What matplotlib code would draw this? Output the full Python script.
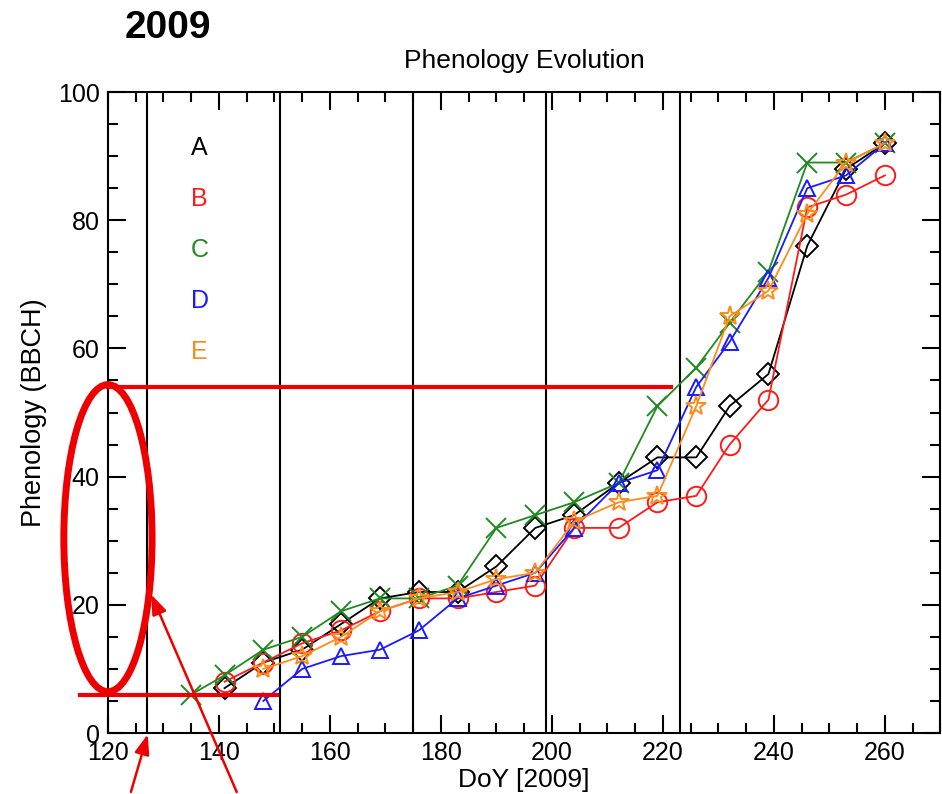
import matplotlib
matplotlib.use("Agg")
import matplotlib.pyplot as plt
from matplotlib.patches import Ellipse
from matplotlib.ticker import MultipleLocator

plt.rcParams['font.family'] = ['Liberation Sans', 'DejaVu Sans']

# day of year for each sampling date
doy = [135, 141, 148, 155, 162, 169, 176, 183, 190, 197, 204, 212, 219, 226, 232, 239, 246, 253, 260]

# BBCH phenology per site (None = no observation)
site_a = [None, 7, 11, 13, 17, 21, 22, 22, 26, 32, 34, 39, 43, 43, 51, 56, 76, 88, 92]
site_b = [None, 8, 11, 14, 16, 19, 21, 21, 22, 23, 32, 32, 36, 37, 45, 52, 82, 84, 87]
site_c = [6, 9, 13, 15, 19, 21, 21, 23, 32, 34, 36, 39, 51, 57, 64, 72, 89, 89, 92]
site_d = [None, None, 5, 10, 12, 13, 16, 21, 23, 25, 32, 39, 41, 54, 61, 71, 85, 87, 92]
site_e = [None, None, 10, 12, 15, 19, 21, 22, 24, 25, 33, 36, 37, 51, 65, 69, 81, 89, 92]

labels = ['A', 'B', 'C', 'D', 'E']
colors = ['black', '#ff1a1a', '#1f8a1f', '#1a1aff', '#ff8c1a']
markers = ['D', 'o', 'x', '^', '*']
msizes = [11, 14, 14, 12, 15]

# vertical reference lines (satellite dates)
ref_days = [127, 151, 175, 199, 223]
# red highlight lines
hi_levels = [54, 6]
hi_spans = [(120, 221.5), (115, 150.5)]


def drop_missing(xs, ys):
    pairs = [(x, y) for x, y in zip(xs, ys) if y is not None]
    return [p[0] for p in pairs], [p[1] for p in pairs]


fig = plt.figure(figsize=(9.42, 7.94), dpi=100)
ax = fig.add_axes([0.1146, 0.0768, 0.8838, 0.8073])

for d in ref_days:
    ax.axvline(d, color='black', lw=1.5, zorder=1)

series = [site_a, site_b, site_c, site_d, site_e]
for vals, col, mk, ms in zip(series, colors, markers, msizes):
    xs, ys = drop_missing(doy, vals)
    ax.plot(xs, ys, color=col, lw=1.3, marker=mk, ms=ms,
            mfc='none', mec=col, mew=1.4, zorder=3)

for i, (lab, col) in enumerate(zip(labels, colors)):
    ax.text(0.11, 0.912 - i * 0.0795, lab, color=col, fontsize=18,
            ha='center', va='center', transform=ax.transAxes)

ax.set_xlim(120, 270)
ax.set_ylim(0, 100)
ax.xaxis.set_major_locator(MultipleLocator(20))
ax.xaxis.set_minor_locator(MultipleLocator(5))
ax.yaxis.set_major_locator(MultipleLocator(20))
ax.yaxis.set_minor_locator(MultipleLocator(5))
ax.tick_params(which='both', direction='in', top=True, right=True, width=1.5)
ax.tick_params(which='major', length=13)
ax.tick_params(which='minor', length=7)
ax.tick_params(axis='y', labelsize=18, pad=6)
ax.tick_params(axis='x', labelsize=18, pad=6)
for sp in ax.spines.values():
    sp.set_linewidth(1.5)

ax.set_xlabel('DoY [2009]', fontsize=19, labelpad=2)
ax.set_ylabel('Phenology (BBCH)', fontsize=19.5, labelpad=8)
ax.set_title('Phenology Evolution', fontsize=19, pad=17)

fig.text(0.178, 0.965, '2009', fontsize=28, fontweight='bold', ha='center', va='center')

# red annotations
for lev, (x0, x1) in zip(hi_levels, hi_spans):
    ax.plot([x0, x1], [lev, lev], color='#ee0000', lw=3, clip_on=False, zorder=4)
ax.add_patch(Ellipse((120, 30.4), 15.9, 47.9, fill=False, ec='#ee0000', lw=5,
                     clip_on=False, zorder=4))
arrow_kw = dict(arrowstyle='-|>,head_length=1.2,head_width=0.45', color='#ee0000', lw=1.8)
ax.annotate('', xy=(127.3, 0.2), xytext=(124, -9.6), arrowprops=arrow_kw,
            annotation_clip=False)
ax.annotate('', xy=(127.6, 22), xytext=(143.4, -9.6), arrowprops=arrow_kw,
            annotation_clip=False)

fig.savefig('out.png', dpi=100)
